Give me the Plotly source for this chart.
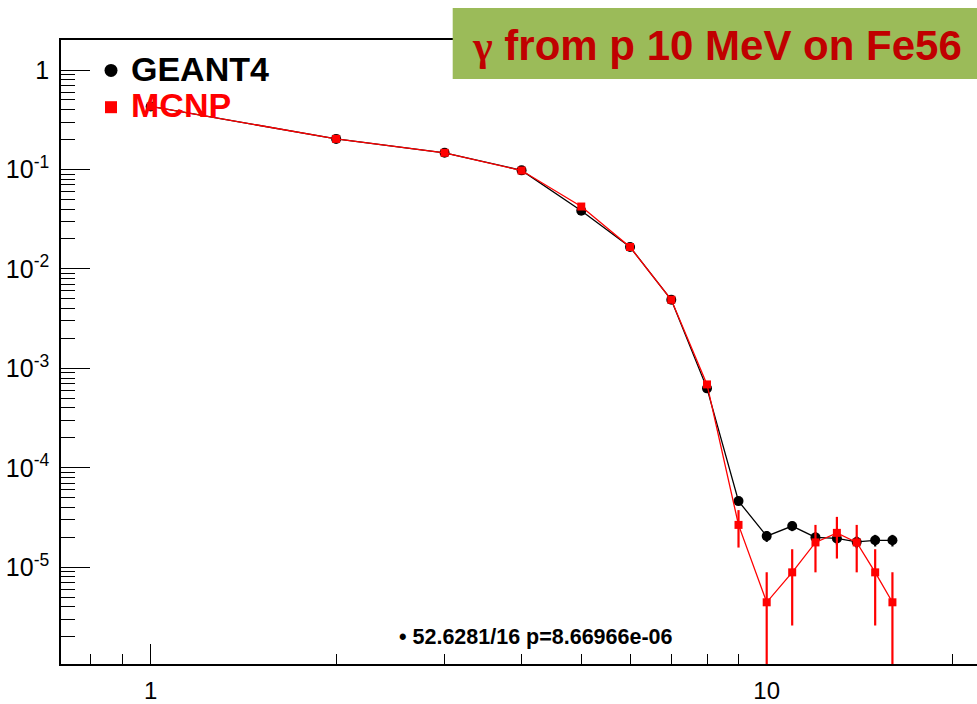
import plotly.graph_objects as go

# ---------------- data ----------------
energy = [1, 2, 3, 4, 5, 6, 7, 8, 9, 10, 11, 12, 13, 14, 15, 16]

geant4_y = [0.43, 0.203, 0.147, 0.098, 0.0384, 0.0166, 0.0049, 6.3e-4,
            4.63e-5, 2.06e-5, 2.6e-5, 2.0e-5, 1.95e-5, 1.8e-5, 1.87e-5, 1.87e-5]
geant4_err = [3.8e-4, 2.6e-4, 2.2e-4, 1.8e-4, 1.1e-4, 7.4e-5, 4.0e-5, 1.44e-5,
              3.9e-6, 2.6e-6, 2.9e-6, 2.57e-6, 2.54e-6, 2.44e-6, 2.5e-6, 2.5e-6]

mcnp_y = [0.43, 0.203, 0.147, 0.0975, 0.0424, 0.0166, 0.0049, 6.9e-4,
          2.67e-5, 4.45e-6, 8.9e-6, 1.78e-5, 2.22e-5, 1.78e-5, 8.9e-6, 4.45e-6]
mcnp_err_up = [1.38e-3, 9.5e-4, 8.1e-4, 6.6e-4, 4.3e-4, 2.7e-4, 1.48e-4, 5.5e-5,
               1.09e-5, 4.45e-6, 6.3e-6, 8.9e-6, 9.95e-6, 8.9e-6, 6.3e-6, 4.45e-6]
mcnp_err_down = [1.38e-3, 9.5e-4, 8.1e-4, 6.6e-4, 4.3e-4, 2.7e-4, 1.48e-4, 5.5e-5,
                 1.09e-5, 4.4499e-6, 6.3e-6, 8.9e-6, 9.95e-6, 8.9e-6, 6.3e-6, 4.4499e-6]

y_tick_vals = [1e-5, 1e-4, 1e-3, 1e-2, 1e-1, 1]
y_tick_text = ["10<sup>-5</sup>", "10<sup>-4</sup>", "10<sup>-3</sup>",
               "10<sup>-2</sup>", "10<sup>-1</sup>", "1"]

series_names = ["GEANT4", "MCNP"]
title_gamma = "\u03b3"
title_rest = " from p 10 MeV on Fe56"
stats_text = "\u2022 52.6281/16 p=8.66966e-06"

# ---------------- figure ----------------
W, H = 977, 704
ML, MR, MT, MB = 61, 0, 40, 40
PW, PH = W - ML - MR, H - MT - MB


def px2x(px):
    return (px - ML) / PW


def px2y(py):
    return (H - MB - py) / PH


fig = go.Figure()

fig.add_trace(go.Scatter(
    x=energy, y=geant4_y, mode="lines+markers", showlegend=False,
    line=dict(color="black", width=1.3),
    marker=dict(symbol="circle", size=10, color="black"),
    error_y=dict(type="data", array=geant4_err, color="black", thickness=2.2, width=0),
))
fig.add_trace(go.Scatter(
    x=energy, y=mcnp_y, mode="lines+markers", showlegend=False,
    line=dict(color="#ff0000", width=1.3),
    marker=dict(symbol="square", size=8, color="#ff0000"),
    error_y=dict(type="data", symmetric=False, array=mcnp_err_up, arrayminus=mcnp_err_down,
                 color="#ff0000", thickness=2.2, width=0),
))

# legend entries (markers only, like the ROOT legend)
fig.add_trace(go.Scatter(
    x=[None], y=[None], mode="markers",
    name="<span style='font-size:34px'><b>%s</b></span>" % series_names[0],
    marker=dict(symbol="circle", size=13, color="black"),
))
fig.add_trace(go.Scatter(
    x=[None], y=[None], mode="markers",
    name="<span style='font-size:34px;color:#ff0000'><b>%s</b></span>" % series_names[1],
    marker=dict(symbol="square", size=12, color="#ff0000"),
))

fig.update_layout(
    width=W, height=H,
    margin=dict(l=ML, r=MR, t=MT, b=MB, pad=0, autoexpand=False),
    paper_bgcolor="white", plot_bgcolor="white",
    font=dict(family="Liberation Sans, Arial, sans-serif", color="black"),
    legend=dict(
        x=px2x(91), y=px2y(47), xanchor="left", yanchor="top",
        bgcolor="rgba(0,0,0,0)", borderwidth=0,
        font=dict(size=26, family="Liberation Sans, Arial, sans-serif", color="black"),
        itemwidth=30, tracegroupgap=0,
    ),
    showlegend=True,
)

fig.update_xaxes(
    type="log", range=[-0.1456, 1.3414], automargin=False, layer="below traces",
    showgrid=False, zeroline=False,
    showline=True, linecolor="black", linewidth=1.6, mirror=True,
    ticks="inside", ticklen=20, tickwidth=1.3, tickcolor="black",
    dtick=1, tickfont=dict(size=24, color="black"),
    ticklabelstandoff=4,
    minor=dict(dtick="D1", ticks="inside", ticklen=10, tickwidth=1.3, tickcolor="black", showgrid=False),
)
fig.update_yaxes(
    type="log", range=[-5.972, 0.3016], automargin=False, layer="below traces",
    showgrid=False, zeroline=False,
    showline=True, linecolor="black", linewidth=1.6, mirror=False,
    ticks="inside", ticklen=29, tickwidth=1.3, tickcolor="black",
    tickmode="array", tickvals=y_tick_vals, ticktext=y_tick_text,
    tickfont=dict(size=25, color="black"),
    ticklabelstandoff=5,
    minor=dict(dtick="D1", ticks="inside", ticklen=14, tickwidth=1.3, tickcolor="black", showgrid=False),
)

# green title box
fig.add_shape(
    type="rect", xref="paper", yref="paper",
    x0=px2x(452.7), x1=1.05, y0=px2y(79), y1=px2y(8),
    fillcolor="#9bbb59", line=dict(width=0), layer="above",
)
fig.add_annotation(
    xref="paper", yref="paper", x=px2x(470), y=px2y(46),
    xanchor="left", yanchor="middle", showarrow=False,
    text="<b><span style=\"font-family:'Liberation Serif', serif\">%s</span>%s</b>" % (title_gamma, title_rest),
    font=dict(size=42, color="#c00000", family="Liberation Sans, Arial, sans-serif"),
)

# fit statistics text
fig.add_annotation(
    xref="paper", yref="paper", x=px2x(397), y=px2y(637),
    xanchor="left", yanchor="middle", showarrow=False,
    text="<b>%s</b>" % stats_text,
    font=dict(size=21.5, color="black", family="Liberation Sans, Arial, sans-serif"),
)

fig.write_html("out.html")
